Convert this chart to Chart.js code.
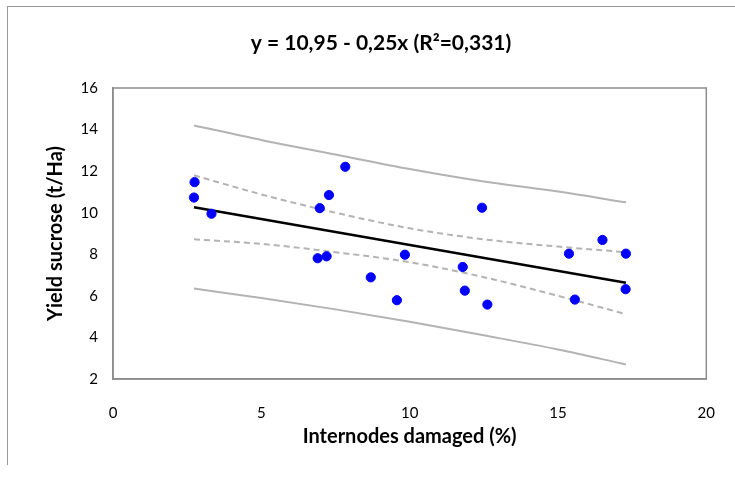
<!DOCTYPE html>
<html>
<head>
<meta charset="utf-8">
<script src="https://cdn.jsdelivr.net/npm/chart.js@4"></script>
<style>
    html, body { margin: 0; padding: 0; background: #fff; }
    #wrap { position: relative; width: 735px; height: 479px; }
    #frame {
        position: absolute; left: 7px; top: 6px; width: 760px; height: 458px;
        border-left: 1.5px solid #999; border-top: 1.5px solid #999;
        pointer-events: none;
    }
    canvas { position: absolute; left: 0; top: 0; }
</style>
</head>
<body>
<div id="wrap">
    <canvas id="yieldChart" width="735" height="479"></canvas>
    <div id="frame"></div>
</div>
<script>
// Observed samples: internodes damaged (%) vs sucrose yield (t/Ha)
const damage  = [2.75, 2.73, 3.32, 7.83, 7.28, 6.97, 6.90, 7.20, 9.84, 8.69,
                 9.57, 12.44, 16.50, 15.37, 17.29, 11.79, 11.86, 12.62, 15.57, 17.28];
const sucrose = [11.47, 10.73, 9.95, 12.21, 10.85, 10.22, 7.81, 7.90, 7.98, 6.89,
                 5.79, 10.24, 8.69, 8.03, 8.03, 7.39, 6.25, 5.58, 5.82, 6.32];

// Fitted line y = 10,95 - 0,25x
const intercept = 10.95;
const slope = -0.25;
const fitX = [2.73, 17.29];

// Confidence (dashed) and prediction (solid) bands
const bandX     = [2.73, 5, 7.5, 10, 12.5, 15, 17.29];
const confUpper = [11.80, 10.88, 10.00, 9.25, 8.72, 8.37, 8.10];
const confLower = [8.72, 8.50, 8.10, 7.62, 6.90, 6.00, 5.12];
const predUpper = [14.20, 13.50, 12.80, 12.10, 11.50, 11.02, 10.50];
const predLower = [6.35, 5.90, 5.35, 4.75, 4.10, 3.42, 2.70];

const xTicks = [0, 5, 10, 15, 20];
const yTicks = [2, 4, 6, 8, 10, 12, 14, 16];

const titleText = 'y = 10,95 - 0,25x (R\u00b2=0,331)';
const FONT = 'Lato, "Open Sans", sans-serif';
const AXIS_GREY = '#8c8c8c';

function toPoints(xs, ys) {
    return xs.map((x, i) => ({ x: x, y: ys[i] }));
}

const bandStyle = {
    type: 'line', showLine: true, pointRadius: 0, fill: false,
    borderColor: '#b3b3b3', borderWidth: 2, tension: 0.4,
    cubicInterpolationMode: 'monotone'
};

// Box around the plotting area
const plotBorder = {
    id: 'plotBorder',
    afterDraw(chart) {
        const a = chart.chartArea;
        const ctx = chart.ctx;
        ctx.save();
        ctx.strokeStyle = AXIS_GREY;
        ctx.lineWidth = 1.5;
        ctx.strokeRect(a.left, a.top, a.right - a.left, a.bottom - a.top);
        ctx.restore();
    }
};

const ctx = document.getElementById('yieldChart').getContext('2d');
const yieldChart = new Chart(ctx, {
    type: 'scatter',
    data: {
        datasets: [
            Object.assign({}, bandStyle, { data: toPoints(bandX, predUpper), order: 5 }),
            Object.assign({}, bandStyle, { data: toPoints(bandX, predLower), order: 5 }),
            Object.assign({}, bandStyle, { data: toPoints(bandX, confUpper), borderDash: [6, 4], order: 4 }),
            Object.assign({}, bandStyle, { data: toPoints(bandX, confLower), borderDash: [6, 4], order: 4 }),
            {
                type: 'line', showLine: true, pointRadius: 0, fill: false,
                borderColor: '#000', borderWidth: 2.5, order: 2,
                data: fitX.map(x => ({ x: x, y: intercept + slope * x }))
            },
            {
                data: toPoints(damage, sucrose),
                backgroundColor: '#0000ff', borderColor: '#0000ff',
                pointRadius: 4.6, pointHoverRadius: 4.6, order: 1
            }
        ]
    },
    options: {
        responsive: false,
        animation: false,
        // wide left padding keeps the title centred on the whole chart frame
        layout: { padding: { left: 55, right: 28, top: 0, bottom: 0 } },
        plugins: {
            legend: { display: false },
            tooltip: { enabled: false },
            title: {
                display: true,
                text: titleText,
                color: '#000',
                font: { family: FONT, size: 21, weight: 'bold', lineHeight: 1.2 },
                padding: { top: 30.4, bottom: 32.4 }
            }
        },
        scales: {
            x: {
                type: 'linear', min: 0, max: 20,
                afterBuildTicks(scale) { scale.ticks = xTicks.map(v => ({ value: v })); },
                afterFit(scale) { scale.height = 100; },
                grid: { display: false, drawOnChartArea: false, drawTicks: true, tickLength: 5, tickColor: AXIS_GREY, tickWidth: 1.5 },
                border: { color: AXIS_GREY, width: 1.5 },
                ticks: { color: '#000', padding: 20, font: { family: FONT, size: 15 } },
                title: {
                    display: true, text: 'Internodes damaged (%)', color: '#000',
                    font: { family: FONT, size: 20, weight: 'bold' },
                    padding: { top: 0, bottom: 30 }
                }
            },
            y: {
                type: 'linear', min: 2, max: 16,
                afterBuildTicks(scale) { scale.ticks = yTicks.map(v => ({ value: v })); },
                afterFit(scale) { scale.width = 58; },
                grid: { display: false, drawOnChartArea: false, drawTicks: true, tickLength: 5, tickColor: AXIS_GREY, tickWidth: 1.5 },
                border: { color: AXIS_GREY, width: 1.5 },
                ticks: { color: '#000', padding: 10, font: { family: FONT, size: 15 } },
                title: {
                    display: true, text: 'Yield sucrose (t/Ha)', color: '#000',
                    font: { family: FONT, size: 20, weight: 'bold' },
                    padding: { top: -11, bottom: 0 }
                }
            }
        }
    },
    plugins: [plotBorder]
});
</script>
</body>
</html>
